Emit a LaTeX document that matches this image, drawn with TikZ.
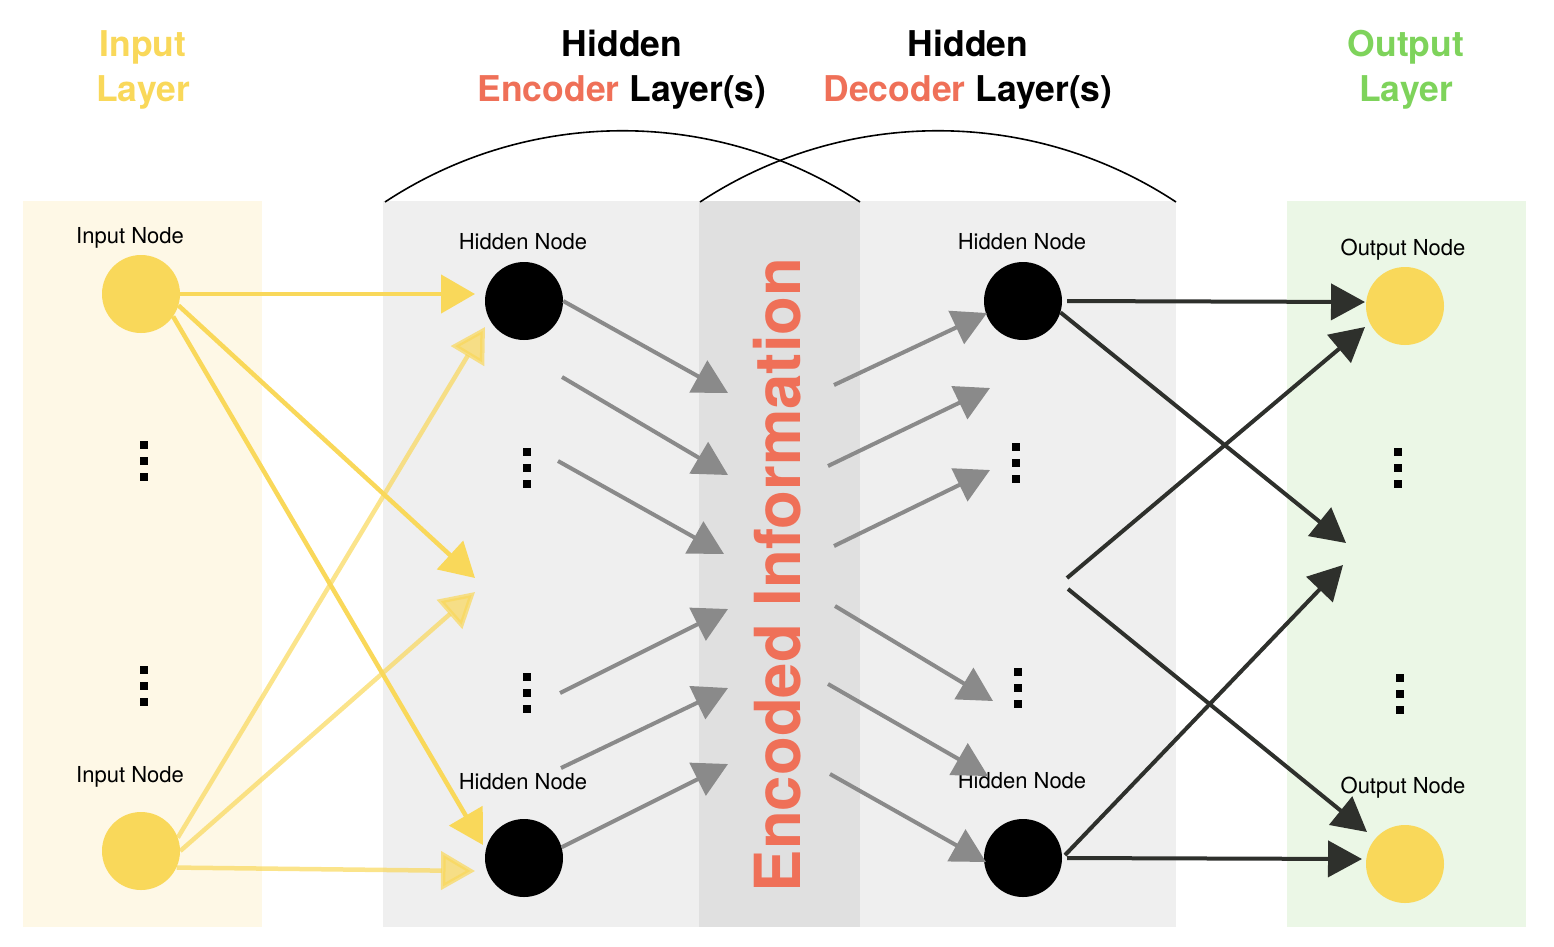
\documentclass[tikz,border=0pt]{standalone}
\usepackage{fontspec}
\setmainfont{TeX Gyre Heros}
\usetikzlibrary{arrows.meta}

\definecolor{nodeyellow}{RGB}{249,216,90}
\definecolor{inputbg}{RGB}{254,248,230}
\definecolor{hiddenbg}{RGB}{239,239,239}
\definecolor{codebg}{RGB}{224,224,224}
\definecolor{outputbg}{RGB}{235,247,230}
\definecolor{outgreen}{RGB}{126,211,91}
\definecolor{salmon}{RGB}{239,112,88}
\definecolor{arrowgray}{RGB}{138,138,138}
\definecolor{arrowdark}{RGB}{46,48,44}

\newcommand{\sqdots}{\vbox{\offinterlineskip
  \hbox{\rule{7.5pt}{7.5pt}}\vskip8.5pt
  \hbox{\rule{7.5pt}{7.5pt}}\vskip8.5pt
  \hbox{\rule{7.5pt}{7.5pt}}}}

\begin{document}
\begin{tikzpicture}[x=1pt,y=-1pt,
    neuron/.style={circle, minimum size=78pt, inner sep=0pt},
    nodelabel/.style={font=\fontsize{22}{26}\selectfont, anchor=base, inner sep=0pt},
    title/.style={font=\fontsize{35.5}{45}\selectfont\bfseries, align=center, anchor=base, inner sep=0pt},
    vdotsnode/.style={inner sep=0pt},
    yarrow/.style={draw=nodeyellow, line width=4.5pt, -{Triangle[length=34pt,width=38pt]}},
    ylight/.style={yarrow, opacity=0.7},
    garrow/.style={draw=arrowgray, line width=4pt, -{Triangle[length=34pt,width=36pt]}},
    karrow/.style={draw=arrowdark, line width=4pt, -{Triangle[length=34pt,width=36pt]}}]
            \useasboundingbox (0,0) rectangle (1554,946);

            %Panels
            \fill[inputbg]  (23,201)  rectangle (262,927);
            \fill[hiddenbg] (383,201) rectangle (1176,927);
            \fill[codebg]   (699,201) rectangle (860,927);
            \fill[outputbg] (1287,201) rectangle (1526,927);
            \draw[line width=1.6pt] (385,202) .. controls (529,107) and (716,107) .. (860,202);
            \draw[line width=1.6pt] (700,202) .. controls (844,107) and (1032,107) .. (1176,202);

            %Titles (base = last line)
            \node[title, text=nodeyellow] (tin)  at (143,101)  {Input\\Layer};
            \node[title] (tenc) at (622,101)  {Hidden\\{\color{salmon}Encoder} Layer(s)};
            \node[title] (tdec) at (968,101)  {Hidden\\{\color{salmon}Decoder} Layer(s)};
            \node[title, text=outgreen] (tout) at (1406,101) {Output\\Layer};
            \node[rotate=90, font=\fontsize{63.5}{64}\selectfont\bfseries, text=salmon, inner sep=0pt] (code) at (777,575) {Encoded Information};

            %Nodes
            \node[neuron, fill=nodeyellow] (in1)  at (141,294)  {};
            \node[neuron, fill=nodeyellow] (in2)  at (141,851)  {};
            \node[neuron, fill=black]      (enc1) at (524,301)  {};
            \node[neuron, fill=black]      (enc2) at (524,858)  {};
            \node[neuron, fill=black]      (dec1) at (1023,301) {};
            \node[neuron, fill=black]      (dec2) at (1023,858) {};
            \node[neuron, fill=nodeyellow] (out1) at (1405,306) {};
            \node[neuron, fill=nodeyellow] (out2) at (1405,864) {};

            \node[nodelabel] (lin1)  at (130,243)  {Input Node};
            \node[nodelabel] (lin2)  at (130,782)  {Input Node};
            \node[nodelabel] (lenc1) at (523,249)  {Hidden Node};
            \node[nodelabel] (lenc2) at (523,789)  {Hidden Node};
            \node[nodelabel] (ldec1) at (1022,249) {Hidden Node};
            \node[nodelabel] (ldec2) at (1022,788) {Hidden Node};
            \node[nodelabel] (lout1) at (1403,255) {Output Node};
            \node[nodelabel] (lout2) at (1403,793) {Output Node};

            \node[vdotsnode] (indots1)  at (144,461)  {\sqdots};
            \node[vdotsnode] (indots2)  at (144,686)  {\sqdots};
            \node[vdotsnode] (encdots1) at (527,468)  {\sqdots};
            \node[vdotsnode] (encdots2) at (527,693)  {\sqdots};
            \node[vdotsnode] (decdots1) at (1016,463) {\sqdots};
            \node[vdotsnode] (decdots2) at (1018,688) {\sqdots};
            \node[vdotsnode] (outdots1) at (1398,468) {\sqdots};
            \node[vdotsnode] (outdots2) at (1400,694) {\sqdots};

            %Free ends
            \coordinate (ty1) at (475,294);
            \coordinate (ty2) at (475,578);
            \coordinate (ty3) at (483,845);
            \coordinate (ty4) at (485,327);
            \coordinate (ty5) at (475,592);
            \coordinate (ty6) at (475,871);
            \coordinate (sg2) at (562,377);
            \coordinate (sg3) at (558,461);
            \coordinate (sg4) at (560,693);
            \coordinate (sg5) at (561,768);
            \coordinate (tg1) at (728,393);
            \coordinate (tg2) at (728,475);
            \coordinate (tg3) at (724,554);
            \coordinate (tg4) at (728,609);
            \coordinate (tg5) at (728,688);
            \coordinate (tg6) at (728,764);
            \coordinate (sd1) at (834,385);
            \coordinate (sd2) at (828,466);
            \coordinate (sd3) at (834,546);
            \coordinate (sd4) at (835,606);
            \coordinate (sd5) at (828,684);
            \coordinate (sd6) at (830,774);
            \coordinate (td1) at (987,313);
            \coordinate (td2) at (990,388);
            \coordinate (td3) at (990,470);
            \coordinate (td4) at (993,701);
            \coordinate (td5) at (988,776);
            \coordinate (td6) at (986,862);
            \coordinate (tk1) at (1365,302);
            \coordinate (sk3) at (1067,578);
            \coordinate (sk4) at (1068,589);
            \coordinate (tk2) at (1346,543);
            \coordinate (tk3) at (1365,327);
            \coordinate (tk4) at (1367,832);
            \coordinate (tk5) at (1343,565);
            \coordinate (tk6) at (1362,859);

            %Lines
            \draw[yarrow] (in1.east) -- (ty1);
            \draw[yarrow] (in1.-17) -- (ty2);
            \draw[yarrow] (in1.-35) -- (ty3);
            \draw[ylight] (in2.20) -- (ty4);
            \draw[ylight] (in2.east) -- (ty5);
            \draw[ylight] (in2.-25) -- (ty6);
            \draw[garrow] (enc1.east) -- (tg1);
            \draw[garrow] (sg2) -- (tg2);
            \draw[garrow] (sg3) -- (tg3);
            \draw[garrow] (sg4) -- (tg4);
            \draw[garrow] (sg5) -- (tg5);
            \draw[garrow] (enc2.16) -- (tg6);
            \draw[garrow] (sd1) -- (td1);
            \draw[garrow] (sd2) -- (td2);
            \draw[garrow] (sd3) -- (td3);
            \draw[garrow] (sd4) -- (td4);
            \draw[garrow] (sd5) -- (td5);
            \draw[garrow] (sd6) -- (td6);
            \draw[karrow, shorten <=5pt] (dec1.east) -- (tk1);
            \draw[karrow] (dec1.-17) -- (tk2);
            \draw[karrow] (sk3) -- (tk3);
            \draw[karrow] (sk4) -- (tk4);
            \draw[karrow, shorten <=4pt] (dec2.east) -- (tk5);
            \draw[karrow, shorten <=5pt] (dec2.east) -- (tk6);
        \end{tikzpicture}
\end{document}
